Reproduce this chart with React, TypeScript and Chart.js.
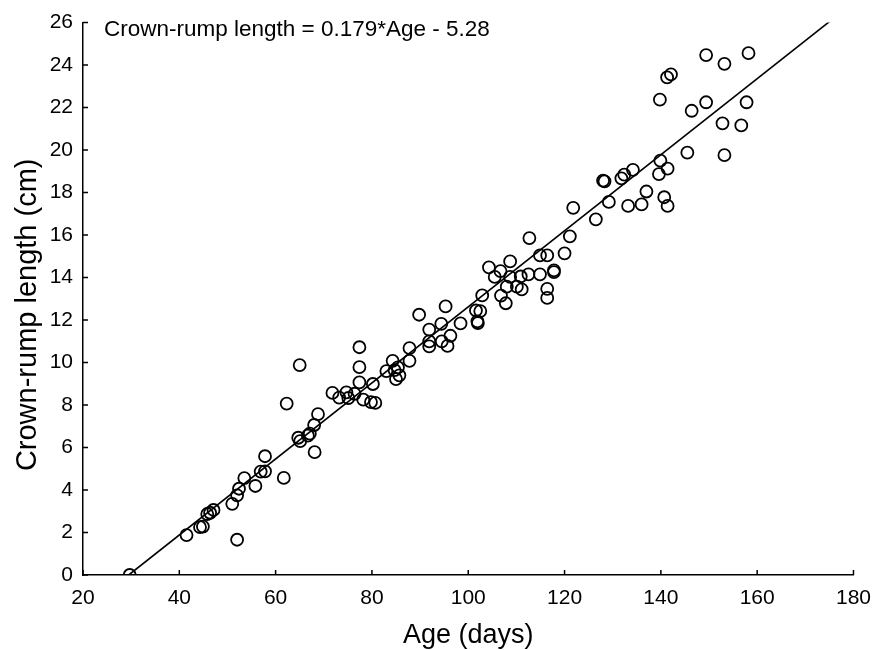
import React, { useEffect, useRef } from "react";
import { Chart, registerables } from "chart.js";

Chart.register(...registerables);

// ---- data ----
const ageDays = [
  29.7, 41.5, 44.3, 44.9, 45.8, 46.4, 47.1, 51.0, 52.0, 52.4,
  52.0, 53.5, 55.8, 56.9, 57.8, 57.8, 61.7, 62.3, 65.0, 64.7,
  65.1, 66.7, 67.1, 68.0, 68.8, 68.1, 71.8, 73.2, 74.7, 75.1,
  76.4, 77.4, 77.4, 77.4, 78.2, 79.8, 80.7, 80.2, 83.0, 84.3,
  84.7, 85.4, 85.7, 85.0, 87.8, 87.8, 89.8, 91.9, 91.9, 91.9,
  94.4, 95.3, 94.5, 95.7, 96.3, 98.4, 101.6, 102.5, 101.9, 102.0,
  102.9, 104.3, 105.5, 106.7, 108.7, 108.7, 106.8, 107.8, 108.0, 110.1,
  111.1, 110.9, 112.5, 112.7, 114.9, 116.4, 114.9, 117.8, 117.8, 116.4,
  116.4, 120.0, 121.1, 121.8, 126.5, 128.0, 128.3, 129.2, 131.8, 132.4,
  134.2, 133.2, 136.0, 137.0, 139.9, 139.6, 141.4, 140.7, 141.4, 145.5,
  139.8, 141.3, 142.1, 146.4, 149.4, 149.4, 153.2, 158.2, 152.8, 156.7,
  157.8, 153.2,
];
const crownRumpCm = [
  0.0, 1.88, 2.25, 2.28, 2.87, 2.93, 3.06, 3.35, 3.75, 4.06,
  1.66, 4.56, 4.19, 4.87, 4.88, 5.59, 4.57, 8.07, 9.88, 6.46,
  6.3, 6.56, 6.65, 7.06, 7.57, 5.78, 8.57, 8.35, 8.6, 8.33,
  8.53, 9.07, 9.78, 10.72, 8.25, 8.14, 8.1, 8.99, 9.6, 10.08,
  9.64, 9.77, 9.4, 9.22, 10.68, 10.08, 12.25, 11.55, 11.0, 10.76,
  11.82, 12.64, 11.0, 10.78, 11.26, 11.84, 12.45, 12.42, 11.94, 11.86,
  13.16, 14.48, 14.03, 14.3, 14.76, 14.03, 13.15, 12.79, 13.57, 13.57,
  13.44, 14.05, 14.15, 15.86, 15.04, 15.04, 14.15, 14.34, 14.26, 13.47,
  13.04, 15.14, 15.94, 17.28, 16.74, 18.56, 18.53, 17.56, 18.67, 18.84,
  19.07, 17.37, 17.44, 18.05, 19.5, 18.87, 19.13, 17.78, 17.37, 19.88,
  22.37, 23.42, 23.56, 21.85, 22.25, 24.47, 24.06, 24.56, 21.26, 21.16,
  22.25, 19.76,
];

const xMin = 20;
const xMax = 180;
const xStep = 20;
const yMin = 0;
const yMax = 26;
const yStep = 2;

const fitSlope = 0.179;
const fitIntercept = -5.28;
const fitAgeStart = 29.5;
const fitAgeEnd = 176;

const equationLabel = "Crown-rump length = 0.179*Age - 5.28";
const xTitle = "Age (days)";
const yTitle = "Crown-rump length (cm)";

const FONT = "'Liberation Sans', Arial, Helvetica, sans-serif";

const inwardTicksAndLabels = {
  id: "inwardTicksAndLabels",
  afterDraw(chart: any) {
    const ctx = chart.ctx;
    const xs = chart.scales.x;
    const ys = chart.scales.y;
    const area = chart.chartArea;
    ctx.save();
    ctx.strokeStyle = "#000";
    ctx.lineWidth = 1.5;
    ctx.beginPath();
    for (const t of xs.ticks) {
      const px = xs.getPixelForValue(t.value);
      ctx.moveTo(px, area.bottom);
      ctx.lineTo(px, area.bottom - 5);
    }
    for (const t of ys.ticks) {
      const py = ys.getPixelForValue(t.value);
      ctx.moveTo(area.left, py);
      ctx.lineTo(area.left + 5, py);
    }
    ctx.stroke();
    ctx.fillStyle = "#000";
    ctx.font = `22.5px ${FONT}`;
    ctx.textAlign = "left";
    ctx.textBaseline = "alphabetic";
    ctx.fillText(equationLabel, area.left + 21, 36);
    // vertical axis title
    ctx.save();
    ctx.translate(28, (area.top + area.bottom) / 2 + 16);
    ctx.rotate(-Math.PI / 2);
    ctx.font = `29px ${FONT}`;
    ctx.textAlign = "center";
    ctx.textBaseline = "middle";
    ctx.fillText(yTitle, 0, 0);
    ctx.restore();
    ctx.restore();
  },
};

export default function App() {
  const ref = useRef<HTMLCanvasElement | null>(null);

  useEffect(() => {
    if (!ref.current) return;
    const points = ageDays.map((a, i) => ({ x: a, y: crownRumpCm[i] }));
    const fit = [fitAgeStart, fitAgeEnd].map((a) => ({ x: a, y: fitSlope * a + fitIntercept }));
    const chart = new Chart(ref.current, {
      type: "scatter",
      data: {
        datasets: [
          {
            label: "Observed",
            data: points,
            pointStyle: "circle",
            pointRadius: 6,
            pointBorderWidth: 1.8,
            borderColor: "#000",
            backgroundColor: "rgba(0,0,0,0)",
            clip: 0,
          } as any,
          {
            label: "Fit",
            type: "line",
            data: fit,
            borderColor: "#000",
            borderWidth: 1.6,
            pointRadius: 0,
            fill: false,
            clip: 0,
          } as any,
        ],
      },
      options: {
        responsive: false,
        animation: false,
        layout: { padding: { left: 0, right: 24, top: 16, bottom: 0 } },
        plugins: {
          legend: { display: false },
          tooltip: { enabled: false },
        },
        scales: {
          x: {
            type: "linear",
            min: xMin,
            max: xMax,
            grid: { display: false, drawTicks: false },
            border: { display: true, color: "#000", width: 1.5 },
            ticks: {
              stepSize: xStep,
              color: "#000",
              padding: 11,
              font: { family: FONT, size: 21 },
              maxRotation: 0,
            },
            title: {
              display: true,
              text: xTitle,
              color: "#000",
              font: { family: FONT, size: 27, lineHeight: 1.1 },
              padding: { top: 0, bottom: 0 },
            },
            afterFit(scale: any) {
              scale.height = 75;
            },
          },
          y: {
            type: "linear",
            min: yMin,
            max: yMax,
            grid: { display: false, drawTicks: false },
            border: { display: true, color: "#000", width: 1.5 },
            ticks: {
              stepSize: yStep,
              color: "#000",
              padding: 10,
              font: { family: FONT, size: 21 },
            },
            title: { display: false },
            afterFit(scale: any) {
              scale.width = 83;
            },
          },
        },
      } as any,
      plugins: [inwardTicksAndLabels],
    });
    return () => chart.destroy();
  }, []);

  return (
    <div style={{ position: "absolute", left: 0, top: 0, width: 882, height: 650, background: "#fff" }}>
      <canvas ref={ref} width={882} height={650} style={{ display: "block", width: 882, height: 650 }} />
    </div>
  );
}
